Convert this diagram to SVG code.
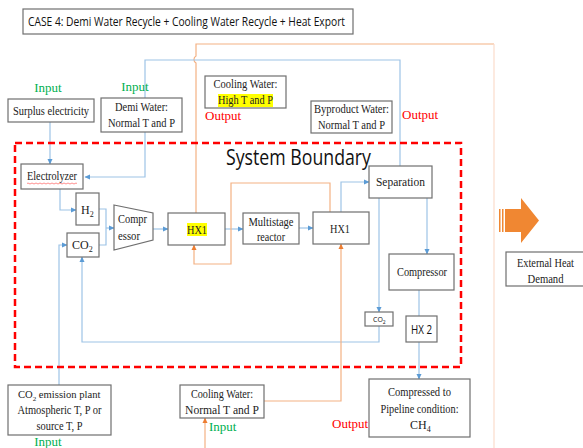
<svg xmlns="http://www.w3.org/2000/svg" width="583" height="448" viewBox="0 0 583 448">
<style>
.box{fill:#fff;stroke:#6f6f6f;stroke-width:1.2}
.t{font-family:"Liberation Serif","Times New Roman",serif;font-size:12px;fill:#222}
.c{text-anchor:middle}
.s{font-family:"Open Sans","Liberation Sans",sans-serif;fill:#111}
.in{font-family:"Liberation Serif",serif;font-size:13px;fill:#00b050}
.out{font-family:"Liberation Serif",serif;font-size:13px;fill:#ff0000}
.b{fill:none;stroke:#9dc3e6;stroke-width:1.2}
.o{fill:none;stroke:#f4b183;stroke-width:1.2}
.hl{fill:#ffff00}
</style>
<defs>
<marker id="ab" markerWidth="6" markerHeight="6" refX="5" refY="3" orient="auto" markerUnits="userSpaceOnUse"><path d="M0,0.5 L5.5,3 L0,5.5 Z" fill="#5b9bd5"/></marker>
<marker id="ao" markerWidth="6" markerHeight="6" refX="5" refY="3" orient="auto" markerUnits="userSpaceOnUse"><path d="M0,0.5 L5.5,3 L0,5.5 Z" fill="#ed7d31"/></marker>
</defs>
<rect width="583" height="448" fill="#fff"/>

<g id="title">
<rect x="23" y="9" width="330" height="25" fill="#fff" stroke="#6f6f6f" stroke-width="1.2"/>
<text class="s" x="28" y="26" font-size="13" textLength="317" lengthAdjust="spacingAndGlyphs">CASE 4: Demi Water Recycle + Cooling Water Recycle + Heat Export</text>
</g>

<g id="connectors">
<path class="o" d="M196,213 V63 a4,4 0 0 1 0,-7 V44 H494" stroke="#f8c3a0"/>
<path d="M494,44 V448" fill="none" stroke="#fbdccb" stroke-width="1.2"/>
<path class="b" d="M400,166 V60 H145 V177 H85" marker-end="url(#ab)"/>
<path class="b" d="M50,122 V164" marker-end="url(#ab)"/>
<path class="b" d="M60,189 V210 H76" marker-end="url(#ab)"/>
<path class="b" d="M99,209 H106 V245 H99"/>
<path class="b" d="M106,228 H114" marker-end="url(#ab)"/>
<path class="b" d="M153,229 H168" marker-end="url(#ab)"/>
<path class="b" d="M225,229 H243" marker-end="url(#ab)"/>
<path class="b" d="M299,228 H313" marker-end="url(#ab)" stroke-width="1.8"/>
<path class="b" d="M341,212 V182 H369" marker-end="url(#ab)"/>
<path class="o" d="M330,212 V183 H231 V264 H194 V245" marker-end="url(#ao)"/>
<path class="b" d="M379,198 V312" marker-end="url(#ab)"/>
<path class="b" d="M427,198 V254" marker-end="url(#ab)"/>
<path class="b" d="M379,326 V342 H82 V257" marker-end="url(#ab)"/>
<path class="b" d="M419,290 V379" marker-end="url(#ab)"/>
<path class="b" d="M59,385 V245 H67" marker-end="url(#ab)"/>
<path class="o" d="M264,401 H341 V244" marker-end="url(#ao)"/>
<path class="o" d="M205,448 V418" marker-end="url(#ao)"/>
</g>

<g id="boundary">
<rect x="15" y="143" width="446" height="224" fill="none" stroke="#ff0000" stroke-width="2.5" stroke-dasharray="7,4"/>
<text class="s" x="226" y="165" font-size="21" textLength="145" lengthAdjust="spacingAndGlyphs">System Boundary</text>
</g>

<g id="surplus">
<rect class="box" x="8" y="99" width="86" height="23"/>
<text class="t c" x="51" y="115" textLength="76" lengthAdjust="spacingAndGlyphs">Surplus electricity</text>
<text class="in c" x="48" y="92">Input</text>
</g>

<g id="demi">
<rect class="box" x="101" y="98" width="81" height="34"/>
<text class="t c" x="141.5" y="111" textLength="53" lengthAdjust="spacingAndGlyphs">Demi Water:</text>
<text class="t c" x="141.5" y="127" textLength="67" lengthAdjust="spacingAndGlyphs">Normal T and P</text>
<text class="in c" x="135" y="91">Input</text>
</g>

<g id="cwhigh">
<rect class="box" x="205" y="76" width="81" height="32"/>
<text class="t c" x="245.5" y="88" textLength="64" lengthAdjust="spacingAndGlyphs">Cooling Water:</text>
<rect class="hl" x="218" y="94" width="55" height="13"/>
<text class="t c" x="245.5" y="104" textLength="55" lengthAdjust="spacingAndGlyphs">High T and P</text>
<text class="out" x="205" y="120">Output</text>
</g>

<g id="byproduct">
<rect class="box" x="311" y="101" width="81" height="32"/>
<text class="t c" x="351.5" y="113" textLength="75" lengthAdjust="spacingAndGlyphs">Byproduct Water:</text>
<text class="t c" x="351.5" y="129" textLength="67" lengthAdjust="spacingAndGlyphs">Normal T and P</text>
<text class="out" x="402" y="119">Output</text>
</g>

<g id="electrolyzer">
<rect class="box" x="21" y="164" width="62" height="25"/>
<text class="t c" x="52" y="180" textLength="50" lengthAdjust="spacingAndGlyphs">Electrolyzer</text>
<path d="M27,183.5 q1,-1 2,0 t2,0 t2,0 t2,0 t2,0 t2,0 t2,0 t2,0 t2,0 t2,0 t2,0 t2,0 t2,0 t2,0 t2,0 t2,0 t2,0 t2,0 t2,0 t2,0 t2,0 t2,0 t2,0 t2,0 t2,0" fill="none" stroke="#ff6060" stroke-width="0.7"/>
</g>

<g id="h2">
<rect class="box" x="76" y="193" width="23" height="32"/>
<text class="t" x="81" y="214">H<tspan font-size="8" dy="3">2</tspan></text>
</g>

<g id="co2">
<rect class="box" x="67" y="233" width="32" height="24"/>
<text class="t" x="72" y="249">CO<tspan font-size="8" dy="3">2</tspan></text>
</g>

<g id="compressor1">
<path class="box" d="M114,205 L153,213 L153,240 L114,250 Z"/>
<text class="t" x="118" y="223" textLength="29" lengthAdjust="spacingAndGlyphs">Compr</text>
<text class="t" x="118" y="240" textLength="22" lengthAdjust="spacingAndGlyphs">essor</text>
</g>

<g id="hx1a">
<rect class="box" x="168" y="213" width="57" height="32"/>
<rect class="hl" x="187" y="223" width="20" height="13"/>
<text class="t c" x="197" y="234" textLength="20" lengthAdjust="spacingAndGlyphs">HX1</text>
</g>

<g id="reactor">
<rect class="box" x="243" y="213" width="56" height="31"/>
<text class="t c" x="271" y="226" textLength="45" lengthAdjust="spacingAndGlyphs">Multistage</text>
<text class="t c" x="271" y="241" textLength="28" lengthAdjust="spacingAndGlyphs">reactor</text>
</g>

<g id="hx1b">
<rect class="box" x="313" y="212" width="56" height="32"/>
<text class="t c" x="340" y="233" textLength="20" lengthAdjust="spacingAndGlyphs">HX1</text>
</g>

<g id="separation">
<rect class="box" x="369" y="166" width="63" height="32" stroke-width="1.6"/>
<text class="t c" x="400.5" y="186" textLength="49" lengthAdjust="spacingAndGlyphs">Separation</text>
</g>

<g id="compressor2">
<rect class="box" x="389" y="254" width="65" height="36"/>
<text class="t c" x="422" y="276" textLength="50" lengthAdjust="spacingAndGlyphs">Compressor</text>
</g>

<g id="co2small">
<rect class="box" x="365" y="312" width="28" height="14"/>
<text class="s" x="373" y="322" font-size="7">CO<tspan font-size="5" dy="1.5">2</tspan></text>
</g>

<g id="hx2">
<rect class="box" x="406" y="316" width="31" height="26"/>
<text class="s c" x="421.5" y="334" font-size="12" textLength="21" lengthAdjust="spacingAndGlyphs">HX 2</text>
</g>

<g id="pipeline">
<rect class="box" x="369" y="379" width="101" height="58"/>
<text class="t c" x="419.5" y="396" textLength="63" lengthAdjust="spacingAndGlyphs">Compressed to</text>
<text class="t c" x="419.5" y="413" textLength="78" lengthAdjust="spacingAndGlyphs">Pipeline condition:</text>
<text class="t" x="410" y="429">CH<tspan font-size="8" dy="3">4</tspan></text>
<text class="out" x="332" y="428">Output</text>
</g>

<g id="emission">
<rect class="box" x="8" y="385" width="103" height="50"/>
<text class="t" x="18" y="398" style="font-size:10.6px">CO<tspan font-size="7" dy="3">2</tspan><tspan dy="-3"> emission plant</tspan></text>
<text class="t c" x="59.5" y="414" textLength="84" lengthAdjust="spacingAndGlyphs">Atmospheric T, P or</text>
<text class="t c" x="59.5" y="430" textLength="46" lengthAdjust="spacingAndGlyphs">source T, P</text>
<text class="in c" x="48" y="446">Input</text>
</g>

<g id="cwnormal">
<rect class="box" x="180" y="385" width="84" height="33"/>
<text class="t c" x="222" y="398" textLength="62" lengthAdjust="spacingAndGlyphs">Cooling Water:</text>
<text class="t c" x="222" y="414" textLength="74" lengthAdjust="spacingAndGlyphs">Normal T and P</text>
<text class="in" x="209" y="431">Input</text>
</g>

<g id="heatarrow">
<path d="M505,209 H521 V198 L539,220.5 L521,243 V232 H505 Z" fill="#f08732"/>
<rect x="499" y="209" width="1.5" height="23" fill="#f08732"/>
<rect x="502" y="209" width="1.5" height="23" fill="#f08732"/>
</g>

<g id="external">
<rect class="box" x="506" y="252" width="80" height="34"/>
<text class="t c" x="545.5" y="267" textLength="57" lengthAdjust="spacingAndGlyphs">External Heat</text>
<text class="t c" x="545.5" y="283" textLength="36" lengthAdjust="spacingAndGlyphs">Demand</text>
</g>
</svg>
